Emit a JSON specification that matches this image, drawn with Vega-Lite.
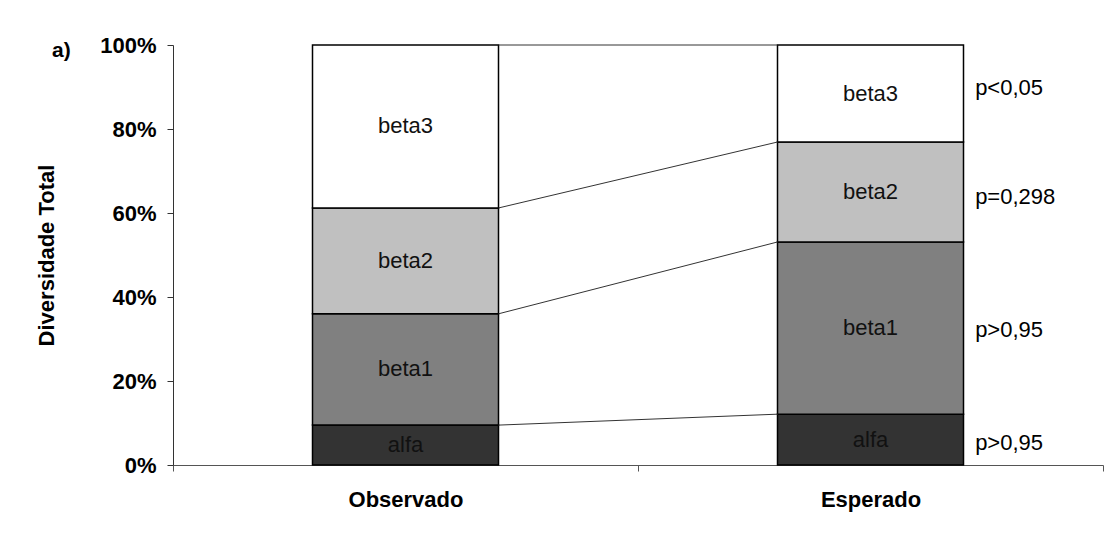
{
  "$schema": "https://vega.github.io/schema/vega-lite/v6.json",
  "width": 930,
  "height": 420,
  "autosize": {"type": "none"},
  "padding": {"left": 173, "top": 45, "right": 9, "bottom": 72},
  "background": "white",
  "config": {
    "font": "Liberation Sans",
    "view": {"stroke": null},
    "axis": {"grid": false}
  },
  "title": {
    "text": "a)",
    "anchor": "start",
    "frame": "group",
    "fontSize": 21,
    "fontWeight": "bold",
    "color": "black",
    "dx": -121,
    "offset": -44,
    "baseline": "alphabetic"
  },
  "datasets": {
    "segs": [
      {"cenario": "Observado", "componente": "alfa", "valor": 9.5},
      {"cenario": "Observado", "componente": "beta1", "valor": 26.5},
      {"cenario": "Observado", "componente": "beta2", "valor": 25.2},
      {"cenario": "Observado", "componente": "beta3", "valor": 38.8},
      {"cenario": "Esperado", "componente": "alfa", "valor": 12.1},
      {"cenario": "Esperado", "componente": "beta1", "valor": 41.0},
      {"cenario": "Esperado", "componente": "beta2", "valor": 23.8},
      {"cenario": "Esperado", "componente": "beta3", "valor": 23.1}
    ],
    "links": [
      {"de": "Observado", "para": "Esperado", "y_obs": 9.5, "y_esp": 12.1},
      {"de": "Observado", "para": "Esperado", "y_obs": 36.0, "y_esp": 53.1},
      {"de": "Observado", "para": "Esperado", "y_obs": 61.2, "y_esp": 76.9},
      {"de": "Observado", "para": "Esperado", "y_obs": 100, "y_esp": 100}
    ],
    "pvals": [
      {"cenario": "Esperado", "p": "p<0,05", "pos": 89.8},
      {"cenario": "Esperado", "p": "p=0,298", "pos": 63.8},
      {"cenario": "Esperado", "p": "p>0,95", "pos": 32.1},
      {"cenario": "Esperado", "p": "p>0,95", "pos": 5.2}
    ]
  },
  "layer": [
    {
      "data": {"name": "segs"},
      "mark": {"type": "bar", "stroke": "black", "strokeWidth": 1.5, "width": {"band": 0.4}},
      "encoding": {
        "x": {
          "field": "cenario",
          "type": "nominal",
          "title": null,
          "scale": {"domain": ["Observado", "Esperado"], "paddingInner": 0, "paddingOuter": 0},
          "axis": {
            "labelAngle": 0,
            "labelFontSize": 22,
            "labelFontWeight": "bold",
            "labelColor": "black",
            "labelPadding": 18,
            "tickBand": "extent",
            "tickSize": 6,
            "tickColor": "#555",
            "domainColor": "#555"
          }
        },
        "y": {
          "field": "valor",
          "type": "quantitative",
          "stack": "zero",
          "title": "Diversidade Total",
          "scale": {"domain": [0, 100], "nice": false},
          "axis": {
            "values": [0, 20, 40, 60, 80, 100],
            "labelExpr": "datum.value + '%'",
            "labelFontSize": 22,
            "labelFontWeight": "bold",
            "labelColor": "black",
            "labelPadding": 11,
            "tickSize": 6,
            "tickColor": "#333",
            "domainColor": "#333",
            "titleFontSize": 22,
            "titleFontWeight": "bold",
            "titleColor": "black",
            "titlePadding": 41
          }
        },
        "color": {
          "field": "componente",
          "type": "nominal",
          "scale": {"domain": ["alfa", "beta1", "beta2", "beta3"], "range": ["#333333", "#808080", "#c0c0c0", "#ffffff"]},
          "legend": null
        },
        "order": {"field": "componente", "type": "nominal", "sort": "ascending"}
      }
    },
    {
      "data": {"name": "segs"},
      "mark": {"type": "text", "fontSize": 22, "color": "#111", "baseline": "middle", "align": "center"},
      "encoding": {
        "x": {"field": "cenario", "type": "nominal", "title": null},
        "y": {"field": "valor", "type": "quantitative", "stack": "zero", "bandPosition": 0.5, "title": "Diversidade Total"},
        "detail": {"field": "componente", "type": "nominal"},
        "order": {"field": "componente", "type": "nominal", "sort": "ascending"},
        "text": {"field": "componente", "type": "nominal"}
      }
    },
    {
      "data": {"name": "links"},
      "mark": {"type": "rule", "color": "#333", "strokeWidth": 1},
      "encoding": {
        "x": {"field": "de", "type": "nominal", "bandPosition": 0.7, "title": null},
        "x2": {"field": "para", "bandPosition": 0.3},
        "y": {"field": "y_obs", "type": "quantitative", "title": "Diversidade Total"},
        "y2": {"field": "y_esp"}
      }
    },
    {
      "data": {"name": "pvals"},
      "mark": {"type": "text", "fontSize": 22, "color": "black", "align": "left", "baseline": "middle"},
      "encoding": {
        "x": {"field": "cenario", "type": "nominal", "bandPosition": 0.725, "title": null},
        "y": {"field": "pos", "type": "quantitative", "title": "Diversidade Total"},
        "text": {"field": "p", "type": "nominal"}
      }
    }
  ]
}
